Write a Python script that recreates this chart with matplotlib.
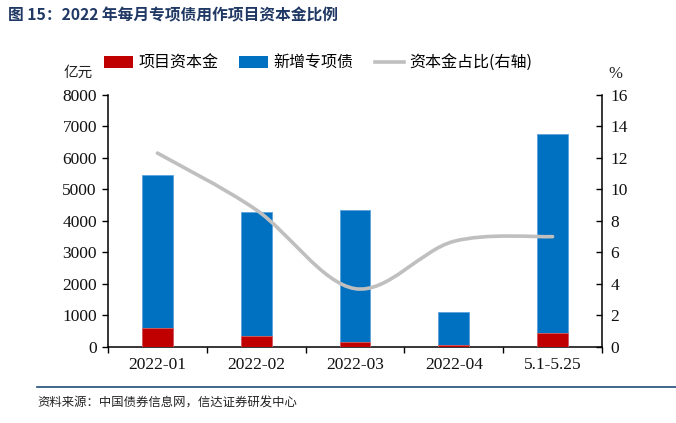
import matplotlib
matplotlib.use("Agg")
import matplotlib.pyplot as plt
import numpy as np
from matplotlib.path import Path
from matplotlib.patches import PathPatch, Patch
from matplotlib.lines import Line2D

categories = ["2022-01", "2022-02", "2022-03", "2022-04", "5.1-5.25"]
new_bonds = [5440, 4275, 4345, 1095, 6760]
capital = [590, 340, 160, 50, 430]
ratio = [12.3, 8.7, 3.7, 6.7, 7.0]

CJK = ["Noto Sans CJK SC", "DejaVu Sans"]
SERIF = ["Liberation Serif", "DejaVu Serif"]

fig = plt.figure(figsize=(6.76, 4.23), dpi=100)
W, H = 676, 423
ax = fig.add_axes([108 / W, 1 - 347 / H, (602 - 108) / W, (347 - 94.7) / H])
ax2 = ax.twinx()

x = np.arange(len(categories))
bw = 0.31
ax.bar(x, new_bonds, width=bw, color="#0070C0", edgecolor="#5BA3DD", linewidth=0.6, zorder=2)
ax.bar(x, capital, width=bw, color="#C00000", edgecolor="#D96060", linewidth=0.6, zorder=3)

ax.set_xlim(-0.5, len(categories) - 0.5)
ax.set_ylim(0, 8000)
ax.set_yticks(np.arange(0, 8001, 1000))
ax2.set_ylim(0, 16)
ax2.set_yticks(np.arange(0, 17, 2))

# smoothed line (Excel-style bezier through the data points)
pts = np.column_stack([x, ratio]).astype(float)
n = len(pts)
verts = [pts[0]]
codes = [Path.MOVETO]
for i in range(n - 1):
    p0 = pts[i - 1] if i > 0 else pts[i]
    p1 = pts[i]
    p2 = pts[i + 1]
    p3 = pts[i + 2] if i + 2 < n else pts[i + 1]
    c1 = p1 + (p2 - p0) / 6.0
    c2 = p2 - (p3 - p1) / 6.0
    verts += [c1, c2, p2]
    codes += [Path.CURVE4] * 3
path = Path(verts, codes)
ax2.add_patch(PathPatch(path, facecolor="none", edgecolor="#BFBFBF", linewidth=2.6,
                        capstyle="round", zorder=4))

# x axis ticks between categories
ax.set_xticks(np.arange(-0.5, len(categories), 1.0))
ax.set_xticklabels([])
ax.set_xticks(x, minor=True)
ax.set_xticklabels(categories, minor=True)
ax.tick_params(axis="x", which="major", direction="out", length=4, width=1, color="black")
ax.tick_params(axis="x", which="minor", length=0, pad=7)
ax.tick_params(axis="y", direction="out", length=4, width=1, pad=4)
ax2.tick_params(axis="y", direction="in", length=4, width=1, pad=6)

for lab in ax.get_xticklabels(minor=True) + ax.get_yticklabels() + ax2.get_yticklabels():
    lab.set_fontfamily(SERIF)
    lab.set_fontsize(12.5)
    lab.set_color("#111111")

for a in (ax, ax2):
    a.spines["top"].set_visible(False)
    for s in ("left", "right", "bottom"):
        a.spines[s].set_linewidth(1.1)
ax.spines["right"].set_visible(False)
ax2.spines["left"].set_visible(False)
ax2.spines["bottom"].set_visible(False)
ax2.set_zorder(ax.get_zorder() + 1)
ax2.patch.set_visible(False)

# legend
handles = [Patch(facecolor="#C00000", edgecolor="none"),
           Patch(facecolor="#0070C0", edgecolor="none"),
           Line2D([], [], color="#BFBFBF", linewidth=2.6)]
labels = ["项目资本金", "新增专项债", "资本金占比(右轴)"]
leg = fig.legend(handles, labels, loc="center left", bbox_to_anchor=(104 / W, 1 - 63 / H),
                 ncol=3, frameon=False, prop={"family": CJK, "size": 11.5},
                 handlelength=1.83, handleheight=0.75, columnspacing=1.3, handletextpad=0.33,
                 borderpad=0, borderaxespad=0)

fig.text(64 / W, 1 - 73 / H, "亿元", family=CJK, fontsize=10.5, va="center", ha="left", color="#222222")
fig.text(615 / W, 1 - 74 / H, "%", family=SERIF, fontsize=12, va="center", ha="center", color="#222222")

# title
fig.text(8 / W, 1 - 15 / H, "图 15：2022 年每月专项债用作项目资本金比例", family=CJK,
         fontsize=11.3, fontweight="bold", color="#1F3864", va="center", ha="left")

# bottom rule and source
fig.add_artist(Line2D([37 / W, 1.0], [1 - 387 / H, 1 - 387 / H], transform=fig.transFigure,
                      color="#1F4E79", linewidth=1.2))
fig.text(37 / W, 1 - 403 / H, "资料来源：中国债券信息网，信达证券研发中心", family=CJK,
         fontsize=8.9, color="#222222", va="center", ha="left")

fig.savefig("out.png", dpi=100)
